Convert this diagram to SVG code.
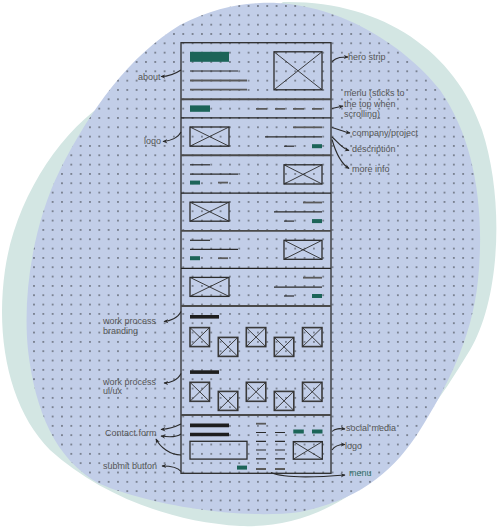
<svg xmlns="http://www.w3.org/2000/svg" width="500" height="528" viewBox="0 0 500 528">
<defs>
<style>
.bg{fill:#d3e6e3}
.blob{fill:#c2cee8}
.frame{fill:none;stroke:#2b2b2b;stroke-width:1.3}
.dv{stroke:#222;stroke-width:1.2}
.dvg{stroke:#4a4a4a;stroke-width:1.9}
.ln{stroke:#2b2b2b;stroke-width:1.2}
.lg{stroke:#5a5a5a;stroke-width:1.8}
.bar{stroke:#1e1e1e;stroke-width:3.6}
.gr{fill:#1c6458}
.bx{fill:none;stroke:#2b2b2b;stroke-width:1.3}
.bt{fill:none;stroke:#3a3a3a;stroke-width:1.6}
.x{stroke:#2b2b2b;stroke-width:0.9}
.lbl{font-family:"Liberation Sans",Arial,sans-serif;font-size:9px;fill:#555}
.con{fill:none;stroke:#2a2a2a;stroke-width:1.1;marker-end:url(#ah)}
</style>
<pattern id="dots" patternUnits="userSpaceOnUse" x="1.33" y="1.33" width="9.33" height="9.33">
<circle cx="4.67" cy="4.67" r="0.7" fill="#111"/>
</pattern>
<marker id="ah" viewBox="0 0 10 10" refX="8" refY="5" markerWidth="5" markerHeight="5" orient="auto">
<path d="M0,1 L9,5 L0,9 L3,5 Z" fill="#2a2a2a"/>
</marker>
<path id="blobpath" d="M260,3 C330,0 400,40 440,90 C475,140 485,210 478,280 C472,340 445,390 420,430 C395,470 360,500 300,512 C240,520 150,505 100,484 C55,460 35,410 28,350 C22,290 35,220 60,170 C90,110 130,55 180,25 C210,10 235,4 260,3 Z"/>
</defs>

<g id="background">
<path class="bg" d="M283,2 C380,0 455,50 482,130 C505,200 500,300 470,350 C440,400 410,440 380,470 C340,510 290,528 240,526 C170,522 100,495 50,450 C10,410 -5,340 5,270 C15,200 60,130 110,100 L200,60 Z"/>
<use href="#blobpath" class="blob"/>
<use href="#blobpath" fill="url(#dots)"/>
</g>

<g id="page-frame">
<rect class="frame" x="181" y="42.7" width="150" height="430.6"/>
<line class="dvg" x1="181" y1="99.3" x2="331" y2="99.3"/>
<line class="dv" x1="181" y1="117.9" x2="331" y2="117.9"/>
<line class="dvg" x1="181" y1="155.3" x2="331" y2="155.3"/>
<line class="dv" x1="181" y1="193.1" x2="331" y2="193.1"/>
<line class="dvg" x1="181" y1="230.9" x2="331" y2="230.9"/>
<line class="dv" x1="181" y1="268.3" x2="331" y2="268.3"/>
<line class="dvg" x1="181" y1="306" x2="331" y2="306"/>
<line class="dvg" x1="181" y1="415" x2="331" y2="415"/>
</g>

<g id="hero">
<rect class="gr" x="190" y="51.8" width="39" height="10"/>
<line class="ln" x1="190" y1="71" x2="238" y2="71"/>
<line class="lg" x1="190" y1="80.5" x2="247" y2="80.5"/>
<line class="lg" x1="190" y1="89.6" x2="247" y2="89.6"/>
<rect class="bx" x="274" y="51.8" width="48" height="38"/>
<path class="x" d="M274,51.8 L322,89.8 M322,51.8 L274,89.8"/>
</g>

<g id="menu-bar">
<rect class="gr" x="190" y="105.4" width="20" height="6.4"/>
<path class="lg" d="M256,108.8 H267 M275,108.8 H285 M293,108.8 H304 M312,108.8 H322"/>
</g>

<g id="project-1">
<rect class="bx" x="190" y="127" width="39" height="19.2"/>
<path class="x" d="M190,127 L229,146.2 M229,127 L190,146.2"/>
<line class="lg" x1="293" y1="127.3" x2="322" y2="127.3"/>
<line class="ln" x1="265" y1="136.8" x2="322" y2="136.8"/>
<line class="ln" x1="284" y1="146.2" x2="294" y2="146.2"/>
<rect class="gr" x="312" y="144.2" width="10" height="4"/>
</g>

<g id="project-2">
<line class="ln" x1="190" y1="164.8" x2="210" y2="164.8"/>
<line class="ln" x1="190" y1="174.2" x2="238" y2="174.2"/>
<rect class="gr" x="190" y="180.6" width="10" height="4"/>
<line class="lg" x1="218" y1="182.6" x2="228" y2="182.6"/>
<rect class="bx" x="284" y="164.8" width="38" height="19.2"/>
<path class="x" d="M284,164.8 L322,184 M322,164.8 L284,184"/>
</g>

<g id="project-3">
<rect class="bx" x="190" y="202.2" width="39" height="19"/>
<path class="x" d="M190,202.2 L229,221.2 M229,202.2 L190,221.2"/>
<line class="lg" x1="303" y1="202.5" x2="322" y2="202.5"/>
<line class="ln" x1="274" y1="211.9" x2="322" y2="211.9"/>
<line class="ln" x1="284" y1="221.1" x2="294" y2="221.1"/>
<rect class="gr" x="312" y="219.1" width="10" height="4"/>
</g>

<g id="project-4">
<line class="ln" x1="190" y1="240.3" x2="210" y2="240.3"/>
<line class="ln" x1="190" y1="249.4" x2="238" y2="249.4"/>
<rect class="gr" x="190" y="256.2" width="10" height="4"/>
<line class="lg" x1="218" y1="258.2" x2="228" y2="258.2"/>
<rect class="bx" x="284" y="240.3" width="38" height="19"/>
<path class="x" d="M284,240.3 L322,259.3 M322,240.3 L284,259.3"/>
</g>

<g id="project-5">
<rect class="bx" x="190" y="277.4" width="39" height="19"/>
<path class="x" d="M190,277.4 L229,296.4 M229,277.4 L190,296.4"/>
<line class="lg" x1="303" y1="277.7" x2="322" y2="277.7"/>
<line class="ln" x1="274" y1="287.2" x2="322" y2="287.2"/>
<line class="ln" x1="284" y1="296" x2="294" y2="296"/>
<rect class="gr" x="312" y="294" width="10" height="4"/>
</g>

<g id="work-process">
<line class="bar" x1="190" y1="316.8" x2="219" y2="316.8"/>
<g id="branding-boxes">
<rect class="bt" x="190" y="327.6" width="19.5" height="19"/><path class="x" d="M190,327.6 L209.5,346.6 M209.5,327.6 L190,346.6"/>
<rect class="bt" x="218.3" y="337.4" width="19.5" height="19"/><path class="x" d="M218.3,337.4 L237.8,356.4 M237.8,337.4 L218.3,356.4"/>
<rect class="bt" x="246.3" y="327.6" width="19.5" height="19"/><path class="x" d="M246.3,327.6 L265.8,346.6 M265.8,327.6 L246.3,346.6"/>
<rect class="bt" x="274.3" y="337.4" width="19.5" height="19"/><path class="x" d="M274.3,337.4 L293.8,356.4 M293.8,337.4 L274.3,356.4"/>
<rect class="bt" x="302.5" y="327.6" width="19.5" height="19"/><path class="x" d="M302.5,327.6 L322,346.6 M322,327.6 L302.5,346.6"/>
</g>
<line class="bar" x1="190" y1="372.1" x2="219" y2="372.1"/>
<g id="uiux-boxes">
<rect class="bt" x="190" y="382.3" width="19.5" height="19"/><path class="x" d="M190,382.3 L209.5,401.3 M209.5,382.3 L190,401.3"/>
<rect class="bt" x="218.3" y="391.4" width="19.5" height="19"/><path class="x" d="M218.3,391.4 L237.8,410.4 M237.8,391.4 L218.3,410.4"/>
<rect class="bt" x="246.3" y="382.3" width="19.5" height="19"/><path class="x" d="M246.3,382.3 L265.8,401.3 M265.8,382.3 L246.3,401.3"/>
<rect class="bt" x="274.3" y="391.4" width="19.5" height="19"/><path class="x" d="M274.3,391.4 L293.8,410.4 M293.8,391.4 L274.3,410.4"/>
<rect class="bt" x="302.5" y="382.3" width="19.5" height="19"/><path class="x" d="M302.5,382.3 L322,401.3 M322,382.3 L302.5,401.3"/>
</g>
</g>

<g id="footer">
<line class="bar" x1="190" y1="425.4" x2="229" y2="425.4"/>
<line class="bar" x1="190" y1="434.5" x2="229" y2="434.5"/>
<rect class="bx" x="190" y="441.3" width="57" height="17.8"/>
<rect class="gr" x="237" y="465.6" width="10" height="4"/>
<line class="lg" x1="256" y1="423.7" x2="266" y2="423.7"/>
<path class="ln" d="M256,432.5 H266 M256,441.3 H266 M256,450 H266 M256,458.8 H266 M275,432.5 H285 M275,441.3 H285 M275,450 H285 M275,458.8 H285"/>
<path class="lg" d="M256,469 H266 M275,469 H285"/>
<rect class="gr" x="293.3" y="429.5" width="10.5" height="4"/>
<rect class="gr" x="312" y="429.5" width="10.5" height="4"/>
<rect class="bx" x="293.3" y="441.6" width="29" height="17.6"/>
<path class="x" d="M293.3,441.6 L322.3,459.2 M322.3,441.6 L293.3,459.2"/>
</g>

<g id="connectors">
<path class="con" d="M181,70 C175,74 168,76.5 161,76.5"/>
<path class="con" d="M332,61.5 C337,57 342,57 348,57"/>
<path class="con" d="M332,108.5 L343,106"/>
<path class="con" d="M181,132 C178,138 170,141 163,141.5"/>
<path class="con" d="M332,127.5 C338,129 344,132 350,133"/>
<path class="con" d="M332,137 C337,141 341,148 349,150.5"/>
<path class="con" d="M332,139.5 C335,150 340,163 349,168.5"/>
<path class="con" d="M181,311.5 C178,318 170,321 164,321.5"/>
<path class="con" d="M181,373.5 C178,380 170,383 164,383"/>
<path class="con" d="M181,424 C175,427 168,429 161,429.5"/>
<path class="con" d="M181,434 C177,437 168,437 161,436"/>
<path class="con" d="M181,455 C170,455 160,447 156,439"/>
<path class="con" d="M181,471.5 C177,466 168,466 162,466"/>
<path class="con" d="M332,431.5 C335,428 340,428.5 345,429"/>
<path class="con" d="M332,450 C335,445 340,444.5 345,444.5"/>
<path class="con" d="M271,472.5 C285,479 320,477 345,475"/>
</g>

<g id="labels">
<text class="lbl" x="138" y="79.5">about</text>
<text class="lbl" x="348" y="60.4">hero strip</text>
<text class="lbl" x="344" y="96">menu (sticks to</text>
<text class="lbl" x="344" y="106.5">the top when</text>
<text class="lbl" x="344" y="117">scrolling)</text>
<text class="lbl" x="144" y="143.7">logo</text>
<text class="lbl" x="352" y="136">company/project</text>
<text class="lbl" x="352" y="152.4">description</text>
<text class="lbl" x="352" y="172.3">more info</text>
<text class="lbl" x="103" y="323.7">work process</text>
<text class="lbl" x="103" y="334.2">branding</text>
<text class="lbl" x="103" y="385">work process</text>
<text class="lbl" x="103" y="394.2">ui/ux</text>
<text class="lbl" x="105" y="436.4">Contact form</text>
<text class="lbl" x="103" y="468.7">submit button</text>
<text class="lbl" x="346" y="431.3">social media</text>
<text class="lbl" x="345" y="449">logo</text>
<text class="lbl" x="349" y="475.8" style="fill:#2e6e66">menu</text>
</g>
</svg>
